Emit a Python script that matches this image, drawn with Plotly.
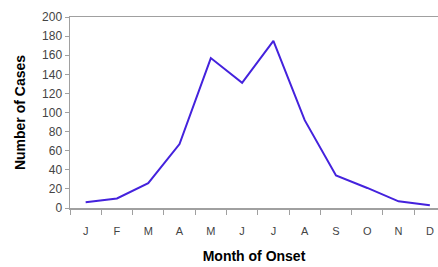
import plotly.graph_objects as go

tick_text = ["J", "F", "M", "A", "M", "J", "J", "A", "S", "O", "N", "D"]
cases = [6, 10, 26, 67, 157, 131, 175, 92, 34, 21, 7, 3]

x = list(range(len(cases)))

fig = go.Figure()
fig.add_trace(go.Scatter(
    x=x, y=cases, mode="lines",
    line=dict(color="#4422DD", width=2),
    hoverinfo="skip",
))

fig.update_layout(
    width=438, height=267,
    margin=dict(l=70, r=0, t=17, b=59, autoexpand=False),
    paper_bgcolor="white", plot_bgcolor="white",
    showlegend=False,
    font=dict(family="Liberation Sans, Arial, sans-serif", color="#333"),
    xaxis=dict(
        range=[-0.5, 11.26], automargin=False,
        tickmode="array", tickvals=x, ticktext=tick_text,
        ticks="", showgrid=False, zeroline=False,
        showline=True, linecolor="#A0A0A0", linewidth=1.5, mirror=True,
        minor=dict(tickmode="array", tickvals=[i - 0.5 for i in range(13)],
                   ticks="outside", ticklen=5, tickcolor="#A0A0A0", showgrid=False),
        tickfont=dict(size=11, color="#444"),
        ticklabelstandoff=12,
        title=dict(text="<b>Month of Onset</b>", font=dict(size=14, color="#000"), standoff=15),
    ),
    yaxis=dict(
        range=[0, 200], automargin=False,
        tickmode="array", tickvals=list(range(0, 201, 20)),
        ticks="outside", ticklen=4, tickcolor="#A0A0A0",
        showgrid=False, zeroline=False,
        showline=True, linecolor="#A0A0A0", linewidth=1.5,
        tickfont=dict(size=12, color="#444"),
        title=dict(text="<b>Number of Cases</b>", font=dict(size=14, color="#000"), standoff=13),
    ),
)

fig.write_html(
    "out.html",
    config={"displayModeBar": False, "staticPlot": True},
    post_script="document.body.style.margin='0';document.body.style.overflow='hidden';",
)
